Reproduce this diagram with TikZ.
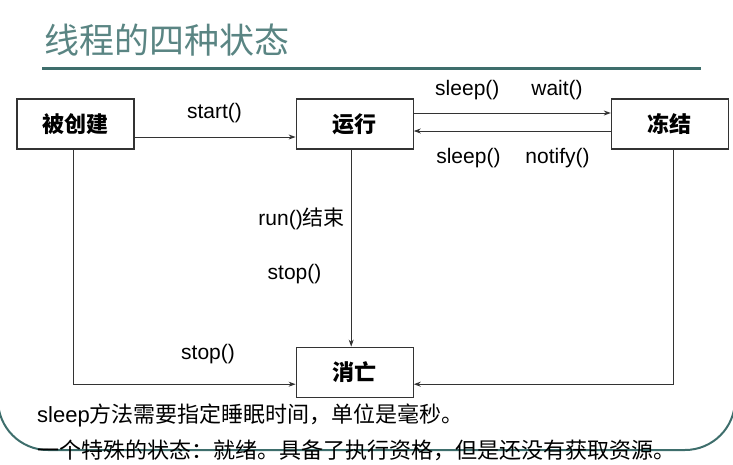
\documentclass[tikz,border=0pt]{standalone}
\usepackage{fontspec}
\setmainfont{Liberation Sans}
\newfontfamily\cjk{Noto Sans CJK SC}
\usetikzlibrary{positioning,arrows.meta}
\definecolor{frameteal}{HTML}{3E6E6C}
\definecolor{titleteal}{HTML}{5A8583}
\definecolor{linegray}{HTML}{333333}

\begin{document}
\begin{tikzpicture}[
            x=1pt, y=-1pt,
            box/.style={draw=linegray,line width=1.2pt,rectangle,minimum height=50pt, minimum width=117pt,inner sep=0pt,font=\fontsize{22}{26}\selectfont\cjk\bfseries},
            lbl/.style={inner sep=0pt,font=\fontsize{21}{25}\selectfont},
            note/.style={anchor=west,inner sep=0pt,font=\fontsize{22}{26}\selectfont},
            arr/.style={-{Stealth[length=7pt,width=5pt]},line width=0.9pt,draw=linegray},
        ]

        \tikzset{
            node distance=161pt,
        }

        \useasboundingbox (0,0) rectangle (733,464);

        % slide frame and title
        \draw[frameteal,line width=2pt,rounded corners=50pt] (-2,330) -- (-2,450) -- (735,450) -- (735,330);
        \node[anchor=west,inner sep=0pt,text=titleteal,font=\fontsize{35}{40}\selectfont\cjk] (title) at (44,40) {线程的四种状态};
        \draw[frameteal,line width=3pt] (42,68) -- (701,68);

        \node[box] (crt) at (75.5,124) {被创建};
        \node[box,right=of crt] (run) {运行};
        \node[box,right=197pt of run] (frz) {冻结};
        \node[box,below=197pt of run] (dead) {消亡};

        \draw[arr] ([yshift=-13pt]crt.east) -- ([yshift=-13pt]run.west);
        \draw[arr] ([yshift=11pt]run.east) -- ([yshift=11pt]frz.west);
        \draw[arr] ([yshift=-7pt]frz.west) -- ([yshift=-7pt]run.east);
        \draw[arr] ([xshift=-3.5pt]run.south) -- ([xshift=-3.5pt]dead.north);
        \draw[arr] ([xshift=-2.5pt]crt.south) |- ([yshift=-12pt]dead.west);
        \draw[arr] ([xshift=4pt]frz.south) |- ([yshift=-12pt]dead.east);

        \node[lbl] (lstart) at (214.5,113) {start()};
        \node[lbl] (lwait) at (509,90) {sleep()\hspace{32pt}wait()};
        \node[lbl] (lnotify) at (513,158) {sleep()\hspace{25pt}notify()};
        \node[lbl,anchor=east] (lend) at (345,219) {run(){\cjk 结束}};
        \node[lbl] (lstop) at (294.5,274) {stop()};
        \node[lbl] (lstop2) at (208,354) {stop()};

        \node[note] (n1) at (37,415) {sleep{\cjk 方法需要指定睡眠时间，单位是毫秒。}};
        \node[note] (n2) at (37,450) {{\cjk 一个特殊的状态：就绪。具备了执行资格，但是还没有获取资源。}};

\end{tikzpicture}
\end{document}
